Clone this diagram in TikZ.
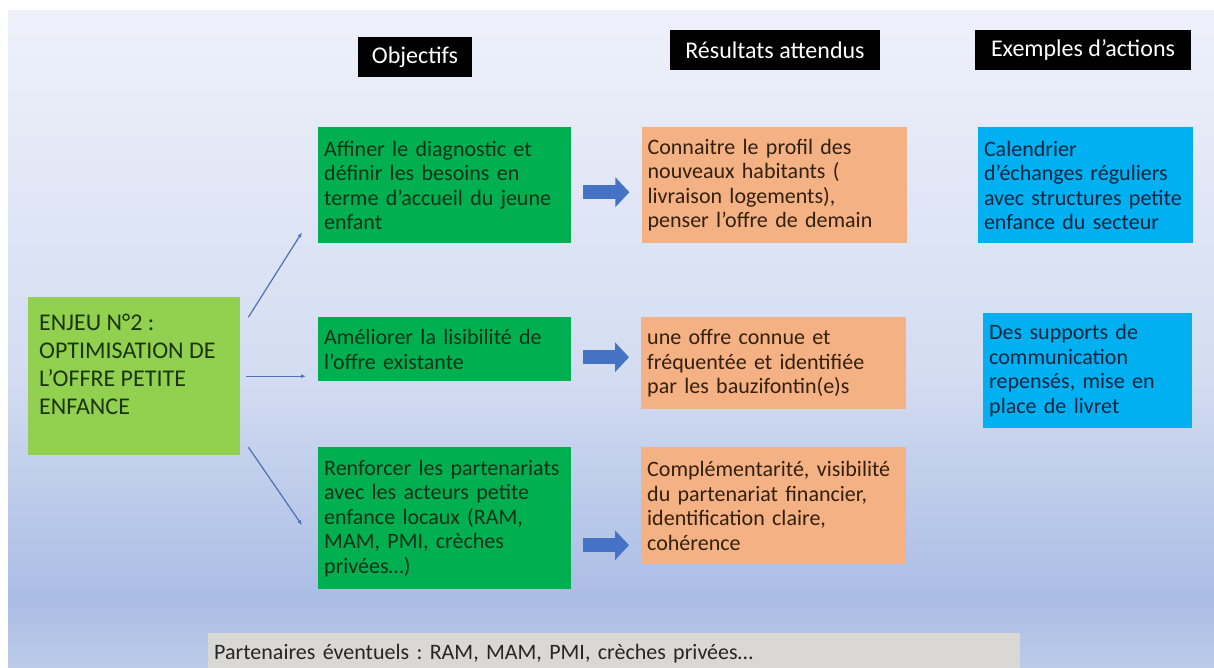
\documentclass[tikz,border=0pt]{standalone}
\usepackage{fontspec}
\setmainfont{Carlito}
\usepackage{xcolor}
\usetikzlibrary{arrows.meta, positioning}
\frenchspacing
\definecolor{enjeuvert}{HTML}{92D050}
\definecolor{objvert}{HTML}{00B050}
\definecolor{resorange}{HTML}{F4B183}
\definecolor{exbleu}{HTML}{00B0F0}
\definecolor{flechebleu}{HTML}{4472C4}
\definecolor{lignebleu}{HTML}{4F70B4}
\definecolor{fondhaut}{HTML}{EEF1FA}
\definecolor{fondmilieu}{HTML}{D3DCF1}
\definecolor{fondbas}{HTML}{AABDE5}
\definecolor{fondpied}{HTML}{BCCBE8}
\definecolor{partgris}{HTML}{DAD8D5}
\definecolor{textvert}{HTML}{0F3219}
\definecolor{textorange}{HTML}{33200F}
\definecolor{textbleu}{HTML}{0A2640}
\definecolor{textenjeu}{HTML}{1C340E}
\tikzstyle{titre} = [rectangle, fill=black, text=white, font=\fontsize{24}{28}\selectfont, minimum height=40pt, inner sep=0pt]
\tikzstyle{boite} = [rectangle, anchor=north west, align=left, inner xsep=6pt, inner ysep=4pt, font=\fontsize{22}{24.5}\selectfont]
\tikzstyle{objectif} = [boite, fill=objvert, text=textvert, text width=241pt]
\tikzstyle{resultat} = [boite, fill=resorange, text=textorange, text width=253pt]
\tikzstyle{exemple} = [boite, fill=exbleu, text=textbleu]
\tikzstyle{enjeu} = [rectangle, anchor=north west, fill=enjeuvert, text=textenjeu, inner xsep=11pt, inner ysep=17pt, font=\fontsize{24}{28}\selectfont]
\tikzstyle{partbox} = [boite, fill=partgris, text=black!85, text width=800pt, minimum height=40pt]
\tikzstyle{arrow} = [lignebleu, line width=1.2pt, -{Latex[length=5pt,width=4pt]}]
\tikzstyle{bigarrow} = [flechebleu, line width=14pt, -{Triangle[width=29pt,length=14pt]}, shorten <=12pt, shorten >=12pt]

\begin{document}
\begin{tikzpicture}[x=1pt, y=-1pt]
  \useasboundingbox (0,0) rectangle (1214,668);
  % fond
  \fill[top color=fondhaut, bottom color=fondmilieu] (8,11) rectangle (1214,376);
  \fill[top color=fondmilieu, bottom color=fondbas] (8,376) rectangle (1214,600);
  \fill[top color=fondbas, bottom color=fondpied] (8,600) rectangle (1214,668);

  \node (objectifs) [titre, minimum width=114pt] at (415,57) {Objectifs};
  \node (resultats) [titre, minimum width=210pt] at (775,50) {Résultats attendus};
  \node (exemples) [titre, minimum width=216pt] at (1083,50) {Exemples d’actions};

  \node (enjeu) [enjeu] at (28,297) {\parbox[t][124pt][t]{190pt}{\raggedright ENJEU N°2 :\\ OPTIMISATION DE\\ L’OFFRE PETITE\\ ENFANCE}};

  \node (g1) [objectif, minimum height=116pt] at (318,127) {Affiner le diagnostic et\\ définir les besoins en\\ terme d’accueil du jeune\\ enfant};
  \node (o1) [resultat, minimum height=116pt, right=70pt of g1] {Connaitre le profil des\\ nouveaux habitants (\\ livraison logements),\\ penser l’offre de demain};
  \node (b1) [exemple, text width=203pt, minimum height=116pt, right=71pt of o1] {Calendrier\\ d’échanges réguliers\\ avec structures petite\\ enfance du secteur};

  \node (g2) [objectif, minimum height=64pt] at (318,317) {Améliorer la lisibilité de\\ l’offre existante};
  \node (o2) [resultat, minimum height=92pt] at (641,317) {une offre connue et\\ fréquentée et identifiée\\ par les bauzifontin(e)s};
  \node (b2) [exemple, text width=197pt, minimum height=115pt] at (983,313) {Des supports de\\ communication\\ repensés, mise en\\ place de livret};

  \node (g3) [objectif, minimum height=142pt] at (318,447) {Renforcer les partenariats\\ avec les acteurs petite\\ enfance locaux (RAM,\\ MAM, PMI, crèches\\ privées…)};
  \node (o3) [resultat, minimum height=117pt] at (641,447) {Complémentarité, visibilité\\ du partenariat financier,\\ identification claire,\\ cohérence};

  \node (partenaires) [partbox] at (208,633) {Partenaires éventuels : RAM, MAM, PMI, crèches privées…};

  \draw[arrow] ([shift={(8,-59)}]enjeu.east) -- ([shift={(-16,-11)}]g1.south west);
  \draw[arrow] ([xshift=6pt]enjeu.east) -- ([xshift=-12pt]enjeu.east -| g2.west);
  \draw[arrow] ([shift={(8,71)}]enjeu.east) -- ([shift={(-16,7)}]g3.west);

  \draw[bigarrow] ([yshift=-7pt]g1.east) -- ([yshift=-7pt]g1.east -| o1.west);
  \draw[bigarrow] ([yshift=-8pt]g2.east) -- ([yshift=-8pt]g2.east -| o2.west);
  \draw[bigarrow] ([yshift=-27pt]g3.east) -- ([yshift=-27pt]g3.east -| o3.west);
\end{tikzpicture}
\end{document}
